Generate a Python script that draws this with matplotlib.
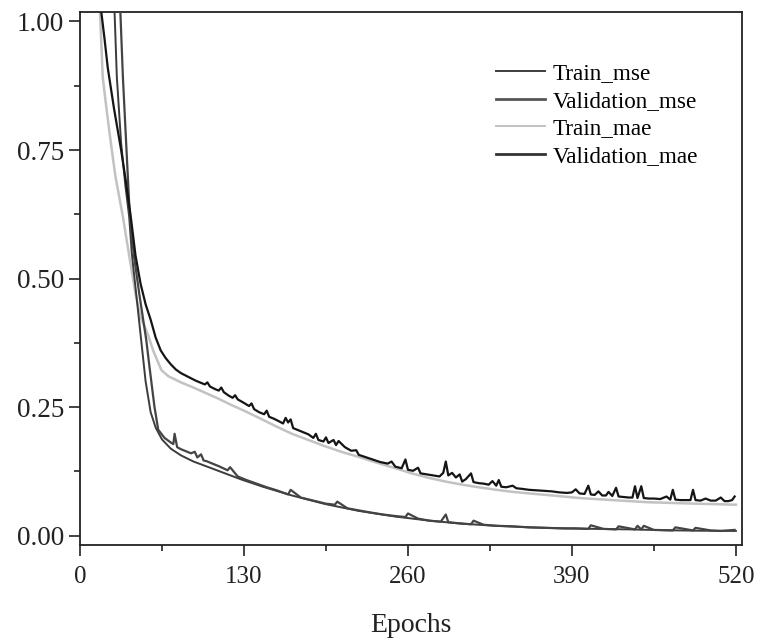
import numpy as np
import matplotlib
matplotlib.use("Agg")
import matplotlib.pyplot as plt
from matplotlib.ticker import MultipleLocator, FixedLocator, FormatStrFormatter
from matplotlib.lines import Line2D

# values (epoch, loss)
train_mse_ep = [1, 10, 20, 27.4, 29.2, 32.6, 36, 39, 41, 45, 48.5, 52, 56, 60, 65, 72, 80, 90,
                102, 115, 128, 145, 168, 195, 221, 250, 277, 303, 330, 356, 383, 409, 436, 462,
                489, 520]
train_mse = [2.2, 1.7, 1.25, 1.018, 0.892, 0.763, 0.68, 0.62, 0.55, 0.46, 0.38, 0.30, 0.24,
             0.21, 0.187, 0.169, 0.156, 0.144, 0.133, 0.121, 0.109, 0.095, 0.078, 0.061, 0.048,
             0.037, 0.029, 0.023, 0.019, 0.016, 0.014, 0.013, 0.012, 0.0105, 0.0095, 0.009]

val_mse_ep = [1, 12, 24, 32, 34, 36.6, 39.5, 43, 47, 52.5, 55, 59, 62, 67, 72, 74, 75, 77,
              80, 84, 88, 91, 93, 96, 98, 100, 105, 110, 117, 119, 125, 132, 140, 148, 156,
              165, 167, 175, 185, 195, 202, 204, 212, 221, 230, 240, 250, 258, 260, 268, 277,
              286, 290, 292, 300, 310, 312, 320, 330, 343, 356, 370, 383, 393, 403, 405, 415,
              425, 427, 440, 442, 445, 447, 455, 470, 472, 486, 488, 500, 508, 519]
val_mse = [2.6, 1.8, 1.25, 1.018, 0.892, 0.763, 0.62, 0.54, 0.47, 0.381, 0.33, 0.251, 0.206,
           0.19, 0.181, 0.178, 0.198, 0.172, 0.168, 0.164, 0.16, 0.163, 0.152, 0.158, 0.146,
           0.145, 0.14, 0.135, 0.127, 0.133, 0.115, 0.108, 0.101, 0.094, 0.088, 0.080, 0.089,
           0.074, 0.068, 0.062, 0.060, 0.066, 0.053, 0.049, 0.045, 0.041, 0.038, 0.036, 0.043,
           0.033, 0.029, 0.027, 0.041, 0.026, 0.024, 0.022, 0.029, 0.021, 0.019, 0.018, 0.016,
           0.015, 0.014, 0.014, 0.013, 0.020, 0.013, 0.012, 0.018, 0.012, 0.019, 0.012, 0.019,
           0.011, 0.010, 0.016, 0.010, 0.015, 0.010, 0.009, 0.011]

train_mae_ep = [1, 8, 15.9, 18, 21, 24.5, 28, 34, 39.3, 44, 48, 54, 58, 64.5, 70, 80, 88, 100,
                110, 120, 130, 141, 155, 168, 181, 194, 207, 221, 235, 250, 263, 277, 290, 303,
                316, 330, 343, 356, 370, 383, 396, 409, 422, 436, 449, 462, 475, 489, 505, 520]
train_mae = [1.6, 1.25, 1.018, 0.892, 0.83, 0.763, 0.70, 0.62, 0.54, 0.47, 0.425, 0.39, 0.36,
             0.322, 0.31, 0.298, 0.290, 0.277, 0.266, 0.254, 0.243, 0.230, 0.213, 0.198, 0.186,
             0.174, 0.163, 0.153, 0.142, 0.131, 0.121, 0.112, 0.105, 0.099, 0.094, 0.089,
             0.085, 0.082, 0.079, 0.076, 0.073, 0.071, 0.069, 0.067, 0.065, 0.064, 0.063,
             0.062, 0.061, 0.060]

# validation mae as (epoch, value) pairs, spikes included
val_mae_pts = [
    (1, 2.1), (8, 1.5), (14, 1.08), (16.9, 1.018), (19.5, 0.965), (22, 0.91), (27, 0.83),
    (32.6, 0.75), (36, 0.695), (40, 0.625), (44, 0.545), (48, 0.49), (52, 0.45), (56, 0.42),
    (60, 0.385), (64, 0.36), (68, 0.345), (72, 0.333), (76, 0.323), (80, 0.316), (84, 0.311),
    (88, 0.306), (92, 0.301), (96, 0.297), (99, 0.294), (101, 0.298), (103, 0.29), (107, 0.285),
    (110, 0.282), (112, 0.288), (114, 0.279), (118, 0.272), (121, 0.268), (123, 0.273),
    (125, 0.265), (130, 0.258), (134, 0.252), (136, 0.257), (138, 0.246), (142, 0.240),
    (146, 0.236), (148, 0.243), (150, 0.231), (154, 0.227), (158, 0.222), (161, 0.218),
    (163, 0.229), (165, 0.220), (167, 0.226), (169, 0.209), (173, 0.205), (177, 0.201),
    (181, 0.197), (185, 0.190), (187, 0.198), (189, 0.186), (193, 0.183), (195, 0.191),
    (197, 0.180), (201, 0.186), (203, 0.176), (205, 0.184), (210, 0.172), (215, 0.165),
    (219, 0.166), (221, 0.157), (226, 0.153), (232, 0.148), (238, 0.143), (244, 0.140),
    (247, 0.144), (250, 0.134), (255, 0.131), (258, 0.148), (260, 0.128), (264, 0.126),
    (268, 0.132), (270, 0.121), (275, 0.119), (280, 0.117), (285, 0.115), (288, 0.122),
    (290, 0.144), (292, 0.117), (295, 0.122), (298, 0.113), (301, 0.119), (303, 0.105),
    (306, 0.110), (310, 0.121), (312, 0.104), (316, 0.102), (320, 0.101), (324, 0.099),
    (327, 0.106), (330, 0.097), (332, 0.108), (334, 0.095), (338, 0.094), (343, 0.097),
    (346, 0.092), (350, 0.091), (356, 0.089), (362, 0.088), (368, 0.087), (374, 0.086),
    (380, 0.084), (386, 0.083), (390, 0.084), (393, 0.090), (396, 0.082), (400, 0.081),
    (403, 0.097), (405, 0.080), (408, 0.079), (411, 0.086), (414, 0.078), (417, 0.078),
    (419, 0.085), (422, 0.077), (425, 0.093), (427, 0.076), (431, 0.075), (435, 0.074),
    (438, 0.074), (440, 0.096), (442, 0.073), (445, 0.096), (447, 0.073), (451, 0.072),
    (455, 0.072), (460, 0.071), (465, 0.076), (468, 0.070), (470, 0.089), (472, 0.070),
    (476, 0.069), (480, 0.069), (484, 0.069), (486, 0.089), (488, 0.069), (492, 0.068),
    (496, 0.072), (500, 0.068), (504, 0.068), (508, 0.074), (511, 0.067), (514, 0.067),
    (517, 0.069), (519, 0.076),
]
val_mae_ep = [p[0] for p in val_mae_pts]
val_mae = [p[1] for p in val_mae_pts]

plt.rcParams['font.family'] = ['Liberation Serif', 'DejaVu Serif']

fig = plt.figure(figsize=(7.62, 6.44), dpi=100)
ax = fig.add_axes([0.105, 0.154, 0.869, 0.827])

ax.plot(train_mae_ep, train_mae, color='#c2c2c2', lw=1.8, zorder=2)
ax.plot(train_mse_ep, train_mse, color='#3c3c3c', lw=1.4, zorder=3)
ax.plot(val_mse_ep, val_mse, color='#444444', lw=1.6, zorder=3)
ax.plot(val_mae_ep, val_mae, color='#151515', lw=1.6, zorder=4)

handles = [Line2D([], [], color='#3c3c3c', lw=1.4),
           Line2D([], [], color='#555555', lw=2.0),
           Line2D([], [], color='#c2c2c2', lw=1.4),
           Line2D([], [], color='#333333', lw=2.0)]
ax.legend(handles, ['Train_mse', 'Validation_mse', 'Train_mae', 'Validation_mae'],
          loc='upper left', bbox_to_anchor=(0.6275, 0.905), frameon=False, fontsize=16.7,
          handlelength=2.15, handletextpad=0.3, labelspacing=0.28, borderpad=0,
          borderaxespad=0)

ax.set_xlim(0, 525)
ax.set_ylim(-0.018, 1.018)
ax.xaxis.set_major_locator(FixedLocator([0, 130, 260, 390, 520]))
ax.xaxis.set_minor_locator(FixedLocator([65, 195, 325, 455]))
ax.yaxis.set_major_locator(MultipleLocator(0.25))
ax.yaxis.set_minor_locator(MultipleLocator(0.125))
ax.yaxis.set_major_formatter(FormatStrFormatter('%.2f'))
ax.tick_params(which='major', direction='out', length=8, width=1.2, colors='#222222')
ax.tick_params(which='minor', direction='out', length=4, width=1.2, colors='#222222')
ax.tick_params(axis='x', which='major', labelsize=18, pad=7)
ax.tick_params(axis='y', which='major', labelsize=19.5, pad=3.5)
ax.tick_params(top=False, right=False)
for s in ax.spines.values():
    s.set_linewidth(1.3)
    s.set_color('#222222')

ax.set_xlabel('Epochs', fontsize=20, labelpad=18, color='#222222')

fig.savefig('out.png', dpi=100)
